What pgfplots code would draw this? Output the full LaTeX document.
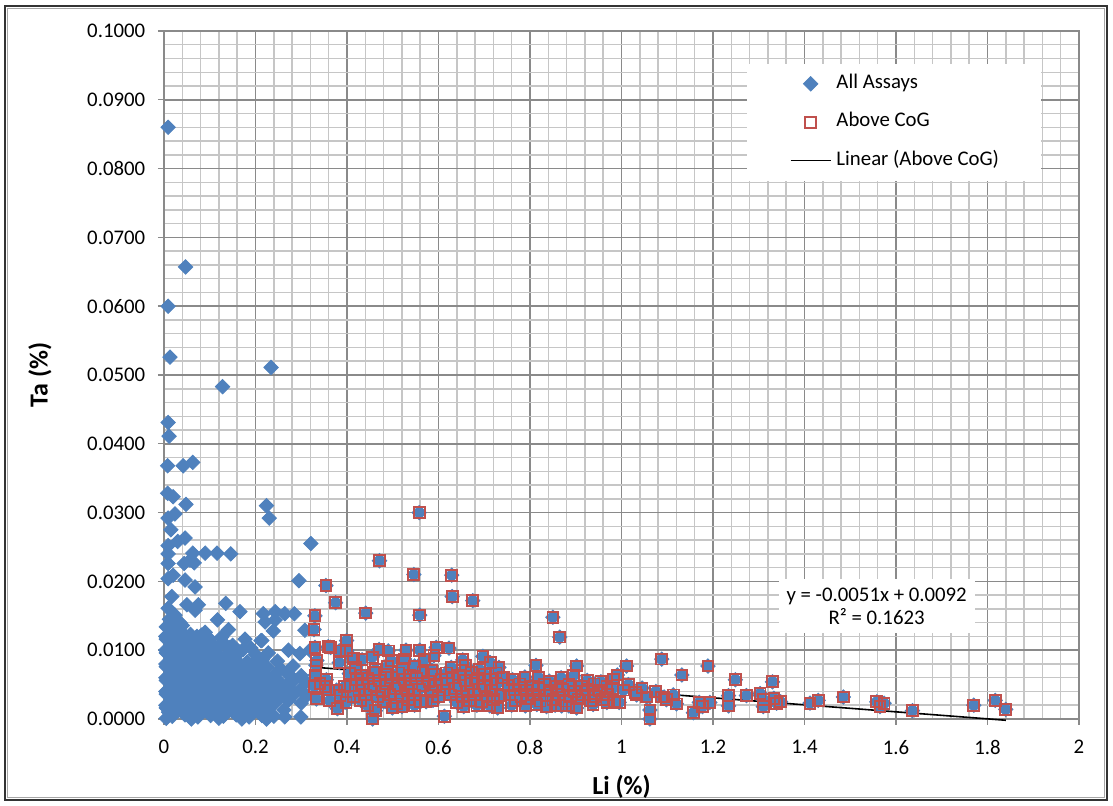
\documentclass[border=0pt]{standalone}
\usepackage{fontspec}
\setmainfont{Carlito}
\usepackage{pgfplots}
\usepackage{pgfplotstable}
\pgfplotsset{compat=1.18}
\definecolor{xblue}{HTML}{4F81BD}
\definecolor{xred}{HTML}{C0504D}
\definecolor{majgrid}{HTML}{8A8A8A}
\definecolor{mingrid}{HTML}{C6C6C6}

% All assays below the cut (blue only)
\pgfplotstableread{
x y
0.009 0.0860
0.047 0.0657
0.009 0.0600
0.013 0.0526
0.128 0.0483
0.234 0.0511
0.009 0.0431
0.011 0.0411
0.008 0.0368
0.042 0.0368
0.063 0.0373
0.008 0.0328
0.020 0.0323
0.048 0.0312
0.009 0.0292
0.024 0.0298
0.224 0.0310
0.230 0.0292
0.321 0.0255
0.015 0.0275
0.046 0.0263
0.009 0.0252
0.030 0.0258
0.009 0.0240
0.063 0.0241
0.090 0.0241
0.116 0.0241
0.146 0.0240
0.009 0.0226
0.020 0.0209
0.009 0.0204
0.044 0.0226
0.057 0.0231
0.066 0.0227
0.046 0.0202
0.068 0.0192
0.295 0.0201
0.017 0.0178
0.009 0.0161
0.024 0.0151
0.050 0.0166
0.075 0.0166
0.068 0.0158
0.135 0.0168
0.166 0.0156
0.117 0.0144
0.141 0.0130
0.177 0.0116
0.212 0.0114
0.217 0.0153
0.243 0.0156
0.264 0.0153
0.285 0.0153
0.221 0.0141
0.243 0.0144
0.239 0.0128
0.308 0.0129
0.272 0.0100
0.297 0.0095
0.319 0.0100
0.264 0.0003
0.299 0.0003
0.224 0.0000
0.082 0.0122
0.108 0.0106
0.126 0.0119
0.144 0.0104
0.173 0.0101
0.214 0.0114
0.012 0.0145
0.035 0.0140
0.005 0.0134
0.022 0.0131
0.040 0.0136
0.012 0.0124
0.035 0.0127
0.058 0.0123
0.090 0.0126
0.005 0.0116
0.025 0.0113
0.050 0.0117
0.075 0.0114
0.100 0.0116
0.128 0.0112
0.015 0.0104
0.040 0.0107
0.065 0.0103
0.090 0.0106
0.118 0.0104
0.150 0.0107
0.190 0.0103
0.005 0.0096
0.028 0.0093
0.055 0.0097
0.080 0.0094
0.105 0.0096
0.135 0.0093
0.165 0.0097
0.200 0.0094
0.228 0.0096
0.015 0.0084
0.042 0.0087
0.068 0.0083
0.095 0.0086
0.122 0.0084
0.150 0.0087
0.182 0.0083
0.215 0.0086
0.248 0.0084
0.005 0.0076
0.030 0.0073
0.058 0.0077
0.085 0.0074
0.110 0.0076
0.138 0.0073
0.166 0.0077
0.195 0.0074
0.225 0.0076
0.255 0.0073
0.282 0.0077
0.018 0.0064
0.045 0.0067
0.072 0.0063
0.098 0.0066
0.125 0.0064
0.152 0.0067
0.180 0.0063
0.210 0.0066
0.240 0.0064
0.268 0.0067
0.300 0.0063
0.005 0.0056
0.032 0.0053
0.060 0.0057
0.086 0.0054
0.112 0.0056
0.140 0.0053
0.168 0.0057
0.196 0.0054
0.226 0.0056
0.254 0.0053
0.285 0.0057
0.310 0.0054
0.018 0.0044
0.046 0.0047
0.074 0.0043
0.100 0.0046
0.128 0.0044
0.156 0.0047
0.184 0.0043
0.212 0.0046
0.240 0.0044
0.270 0.0047
0.298 0.0043
0.005 0.0036
0.032 0.0033
0.060 0.0037
0.088 0.0034
0.115 0.0036
0.142 0.0033
0.170 0.0037
0.198 0.0034
0.228 0.0036
0.256 0.0033
0.286 0.0037
0.312 0.0034
0.018 0.0024
0.046 0.0027
0.074 0.0023
0.102 0.0026
0.130 0.0024
0.158 0.0027
0.186 0.0023
0.214 0.0026
0.244 0.0024
0.272 0.0027
0.300 0.0023
0.005 0.0016
0.032 0.0013
0.060 0.0017
0.088 0.0014
0.116 0.0016
0.144 0.0013
0.172 0.0017
0.200 0.0014
0.230 0.0016
0.262 0.0013
0.018 0.0004
0.046 0.0006
0.074 0.0003
0.102 0.0005
0.130 0.0004
0.158 0.0006
0.186 0.0003
0.214 0.0005
0.240 0.0004
0.005 0.0001
0.060 0.0000
0.120 0.0001
0.170 0.0000
0.010 0.0010
0.040 0.0010
0.068 0.0010
0.095 0.0010
0.124 0.0010
0.152 0.0010
0.180 0.0010
0.208 0.0010
0.004 0.0020
0.032 0.0020
0.060 0.0020
0.088 0.0020
0.116 0.0020
0.144 0.0020
0.172 0.0020
0.200 0.0020
0.228 0.0020
0.018 0.0030
0.046 0.0030
0.074 0.0030
0.102 0.0030
0.130 0.0030
0.158 0.0030
0.186 0.0030
0.214 0.0030
0.242 0.0030
0.004 0.0040
0.032 0.0040
0.060 0.0040
0.088 0.0040
0.116 0.0040
0.144 0.0040
0.172 0.0040
0.200 0.0040
0.228 0.0040
0.258 0.0040
0.018 0.0050
0.046 0.0050
0.074 0.0050
0.100 0.0050
0.128 0.0050
0.156 0.0050
0.184 0.0050
0.212 0.0050
0.240 0.0050
0.270 0.0050
0.004 0.0060
0.032 0.0060
0.060 0.0060
0.086 0.0060
0.112 0.0060
0.140 0.0060
0.168 0.0060
0.196 0.0060
0.226 0.0060
0.018 0.0070
0.045 0.0070
0.072 0.0070
0.098 0.0070
0.125 0.0070
0.152 0.0070
0.180 0.0070
0.210 0.0070
0.004 0.0080
0.030 0.0080
0.058 0.0080
0.085 0.0080
0.110 0.0080
0.138 0.0080
0.166 0.0080
0.195 0.0080
0.018 0.0090
0.042 0.0090
0.068 0.0090
0.095 0.0090
0.122 0.0090
0.150 0.0090
0.004 0.0100
0.028 0.0100
0.055 0.0100
0.080 0.0100
0.105 0.0100
0.015 0.0110
0.040 0.0110
0.065 0.0110
0.090 0.0110
0.004 0.0120
0.025 0.0120
0.048 0.0120
0.072 0.0120
}\lowdata

% Assays above the cut-off grade (blue diamond + red square)
\pgfplotstableread{
x y
0.558 0.0300
0.471 0.0230
0.354 0.0194
0.546 0.0210
0.629 0.0209
0.375 0.0169
0.630 0.0178
0.675 0.0172
0.330 0.0150
0.441 0.0154
0.559 0.0151
0.850 0.0148
0.865 0.0119
0.328 0.0130
0.399 0.0114
0.330 0.0104
0.364 0.0104
0.359 0.0105
0.383 0.0099
0.399 0.0100
0.470 0.0101
0.490 0.0099
0.529 0.0100
0.559 0.0100
0.595 0.0104
0.623 0.0103
0.334 0.0085
0.332 0.0078
0.383 0.0082
0.414 0.0088
0.433 0.0086
0.455 0.0090
0.497 0.0085
0.526 0.0087
0.569 0.0086
0.590 0.0092
0.653 0.0086
0.697 0.0091
0.713 0.0082
0.813 0.0078
0.902 0.0077
1.011 0.0077
1.088 0.0087
1.132 0.0064
1.189 0.0077
1.249 0.0057
1.330 0.0054
1.485 0.0032
1.412 0.0023
1.430 0.0027
1.558 0.0025
1.574 0.0023
1.565 0.0018
1.636 0.0012
1.770 0.0020
1.817 0.0027
1.840 0.0014
0.331 0.0064
0.329 0.0047
0.333 0.0029
0.355 0.0057
0.341 0.0052
0.352 0.0047
0.359 0.0042
0.377 0.0042
0.395 0.0047
0.362 0.0027
0.385 0.0034
0.379 0.0015
0.398 0.0024
0.462 0.0012
0.456 0.0000
0.499 0.0016
0.573 0.0025
0.613 0.0004
0.508 0.0022
0.729 0.0016
0.789 0.0061
0.818 0.0061
0.868 0.0060
0.895 0.0063
0.982 0.0058
0.991 0.0064
0.836 0.0018
0.869 0.0019
0.902 0.0016
0.968 0.0024
0.995 0.0024
1.062 0.0013
1.062 0.0000
1.120 0.0022
1.087 0.0032
1.113 0.0035
1.033 0.0035
1.055 0.0032
1.004 0.0042
1.030 0.0038
1.093 0.0032
1.157 0.0009
1.170 0.0024
1.177 0.0018
1.193 0.0024
1.234 0.0034
1.234 0.0019
1.273 0.0034
1.303 0.0037
1.310 0.0028
1.310 0.0018
1.333 0.0030
1.348 0.0025
1.339 0.0023
1.015 0.0050
1.045 0.0045
1.075 0.0040
1.098 0.0028
0.418 0.0075
0.462 0.0072
0.488 0.0076
0.521 0.0073
0.548 0.0077
0.585 0.0071
0.628 0.0075
0.659 0.0078
0.690 0.0072
0.732 0.0075
0.405 0.0066
0.432 0.0064
0.458 0.0068
0.484 0.0065
0.512 0.0067
0.538 0.0063
0.566 0.0068
0.592 0.0065
0.618 0.0067
0.645 0.0064
0.672 0.0068
0.701 0.0065
0.726 0.0067
0.420 0.0057
0.446 0.0059
0.471 0.0056
0.498 0.0060
0.525 0.0057
0.552 0.0059
0.579 0.0055
0.606 0.0058
0.631 0.0060
0.658 0.0056
0.686 0.0059
0.714 0.0057
0.742 0.0060
0.408 0.0049
0.434 0.0052
0.460 0.0048
0.486 0.0051
0.513 0.0049
0.540 0.0052
0.566 0.0048
0.593 0.0050
0.620 0.0052
0.646 0.0049
0.673 0.0051
0.700 0.0048
0.728 0.0051
0.426 0.0041
0.452 0.0043
0.478 0.0040
0.505 0.0044
0.532 0.0041
0.558 0.0043
0.585 0.0040
0.611 0.0042
0.638 0.0044
0.664 0.0040
0.690 0.0043
0.717 0.0041
0.414 0.0033
0.441 0.0035
0.467 0.0032
0.494 0.0036
0.520 0.0033
0.547 0.0035
0.600 0.0032
0.626 0.0035
0.652 0.0033
0.679 0.0036
0.706 0.0032
0.735 0.0034
0.430 0.0027
0.480 0.0025
0.535 0.0028
0.560 0.0025
0.588 0.0027
0.640 0.0024
0.667 0.0027
0.694 0.0025
0.721 0.0028
0.445 0.0019
0.520 0.0018
0.548 0.0020
0.655 0.0018
0.684 0.0020
0.712 0.0019
0.762 0.0057
0.842 0.0055
0.925 0.0056
0.955 0.0054
0.752 0.0049
0.778 0.0051
0.805 0.0048
0.832 0.0050
0.858 0.0047
0.885 0.0050
0.912 0.0048
0.940 0.0051
0.968 0.0047
0.765 0.0043
0.792 0.0041
0.818 0.0044
0.845 0.0041
0.872 0.0043
0.898 0.0040
0.925 0.0043
0.952 0.0041
0.980 0.0044
0.755 0.0035
0.780 0.0033
0.808 0.0036
0.835 0.0034
0.862 0.0036
0.888 0.0033
0.915 0.0035
0.942 0.0033
0.970 0.0036
0.768 0.0027
0.795 0.0029
0.822 0.0026
0.850 0.0028
0.878 0.0026
0.905 0.0029
0.932 0.0027
0.958 0.0028
0.985 0.0026
0.760 0.0020
0.790 0.0019
0.815 0.0021
0.855 0.0020
0.885 0.0019
0.938 0.0021
}\highdata

\begin{document}
\begin{tikzpicture}
\useasboundingbox (-82pt,-43.5pt) rectangle (474.5pt,359.5pt);
\fill[white] (-82pt,-43.5pt) rectangle (474.5pt,359.5pt);
\draw[black!80, line width=1pt] (-79.5pt,-40.5pt) rectangle (471.5pt,356.5pt);
\draw[black!35, line width=0.8pt] (-78.2pt,-39.2pt) rectangle (470.2pt,355.2pt);
\begin{axis}[
  at={(0pt,0pt)}, anchor=south west,
  scale only axis, width=457.5pt, height=344pt,
  xmin=0, xmax=2, ymin=0, ymax=0.1,
  clip=false,
  xtick={0,0.2,0.4,0.6,0.8,1,1.2,1.4,1.6,1.8,2},
  ytick={0,0.01,0.02,0.03,0.04,0.05,0.06,0.07,0.08,0.09,0.1},
  minor x tick num=4, minor y tick num=4,
  grid=both,
  major grid style={draw=majgrid, line width=0.75pt},
  minor grid style={draw=mingrid, line width=0.75pt},
  axis line style={draw=majgrid, line width=0.8pt},
  tick align=outside, major tick length=3pt, minor tick length=0pt,
  tick style={draw=majgrid, line width=0.7pt},
  tick pos=left,
  scaled y ticks=false, scaled x ticks=false,
  ticklabel style={font=\fontsize{10.4}{12}\selectfont, /pgf/number format/assume math mode=true},
  yticklabel style={inner sep=0pt, xshift=-6.2pt, /pgf/number format/.cd, fixed, fixed zerofill, precision=4},
  xticklabel style={inner sep=0pt, yshift=-7.5pt, /pgf/number format/.cd, fixed, precision=1},
  xlabel={Li (\%)}, ylabel={Ta (\%)},
  label style={font=\fontsize{13}{15}\selectfont\bfseries},
  xlabel style={at={(axis description cs:0.5,-0.0988)}, anchor=center},
  ylabel style={at={(axis description cs:-0.1355,0.5)}, anchor=center},
  legend image code/.code={\draw[mark repeat=2,mark phase=2,#1] plot coordinates {(0pt,0pt) (10pt,0pt) (20pt,0pt)}; \path (22.5pt,0pt);},
  legend style={at={(axis cs:1.2745,0.0953)}, anchor=north west, draw=none, fill=white,
    minimum width=147pt, minimum height=58.5pt, inner sep=0pt, row sep=9.9pt,
    font=\fontsize{10.4}{12}\selectfont,
    nodes={inner sep=0pt, minimum width=0pt, minimum height=0pt, text height=7pt, text depth=2.3pt, anchor=west}},
  legend cell align=left,
]
\addplot[only marks, color=xblue, mark=square*, mark size=2.55pt,
  mark options={rotate=45, fill=xblue, draw=none}] table[x=x,y=y] {\lowdata};
\addlegendentry{All Assays}
\addplot[only marks, color=xblue, mark=square*, mark size=2.55pt, forget plot,
  mark options={rotate=45, fill=xblue, draw=none}] table[x=x,y=y] {\highdata};
\addplot[only marks, color=xred, mark=square, mark size=2.7pt,
  mark options={draw=xred, line width=0.95pt}] table[x=x,y=y] {\highdata};
\addlegendentry{Above CoG}
\addplot[black, line width=0.8pt, mark=none] coordinates {(0.321,0.0075629) (1.840,-0.0001840)};
\addlegendentry{Linear (Above CoG)}
\node[fill=white, inner sep=0pt, minimum width=98pt, minimum height=27pt, align=center,
  font=\fontsize{10.4}{11.6}\selectfont] at (axis cs:1.5577,0.016424)
  {y = -0.0051x + 0.0092\\R² = 0.1623};
\end{axis}
\end{tikzpicture}
\end{document}
